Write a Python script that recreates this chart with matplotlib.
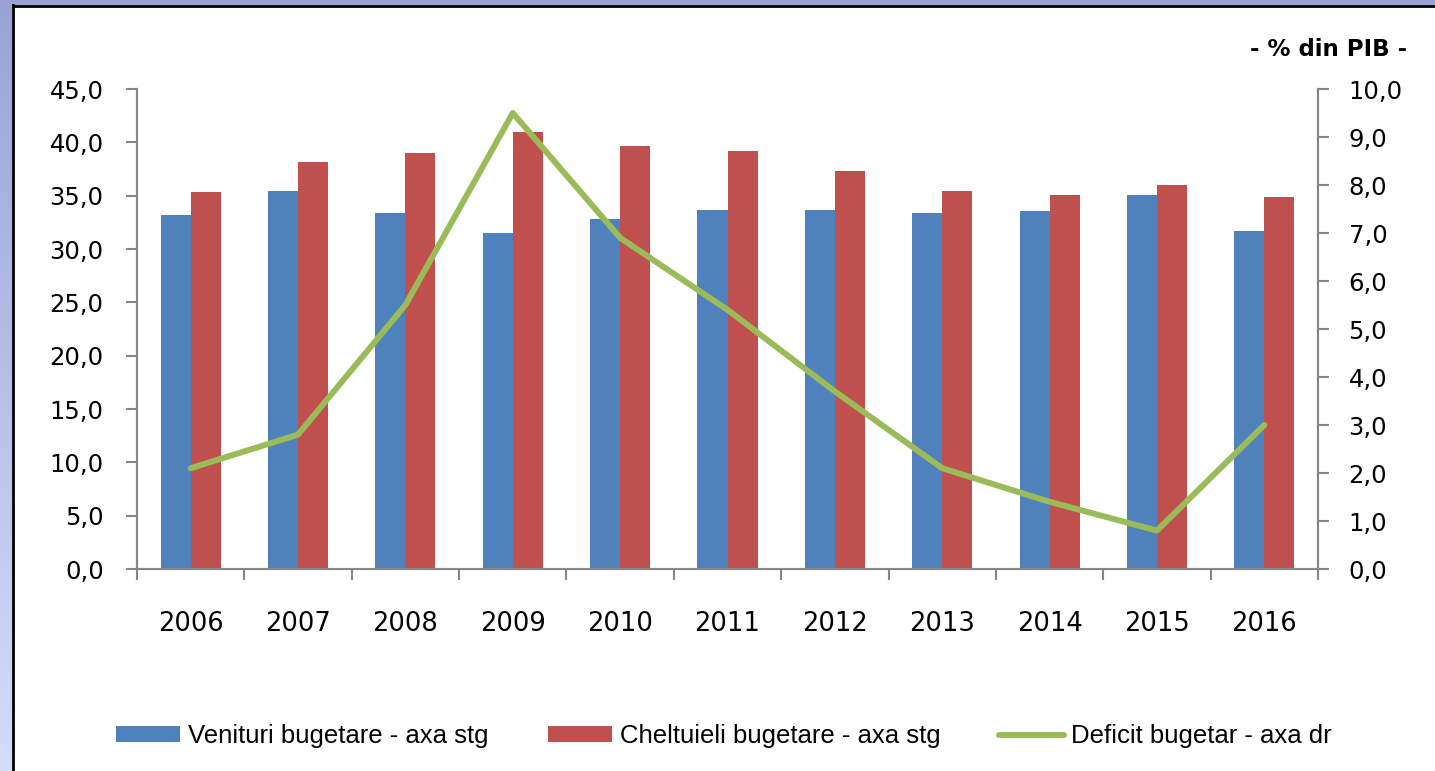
import numpy as np
import matplotlib.pyplot as plt
from matplotlib.ticker import FuncFormatter

ani = ['2006', '2007', '2008', '2009', '2010', '2011', '2012', '2013', '2014', '2015', '2016']
venituri = [33.2, 35.4, 33.4, 31.5, 32.8, 33.7, 33.7, 33.4, 33.6, 35.1, 31.7]
cheltuieli = [35.3, 38.2, 39.0, 41.0, 39.7, 39.2, 37.3, 35.4, 35.1, 36.0, 34.9]
deficit = [2.1, 2.8, 5.5, 9.5, 6.9, 5.4, 3.7, 2.1, 1.4, 0.8, 3.0]

plt.rcParams['font.family'] = ['DejaVu Sans']

fig = plt.figure(figsize=(14.35, 7.71), dpi=100)

# frame: purple gradient strip on the left, purple strip on top, black line inside
strip = fig.add_axes([0, 0, 12 / 1435, 1])
strip.imshow(np.linspace(0, 1, 100).reshape(-1, 1), aspect='auto', extent=(0, 1, 0, 1),
             cmap=plt.matplotlib.colors.LinearSegmentedColormap.from_list('s', ['#d4dcfa', '#9ba3d6']),
             origin='lower')
strip.axis('off')
top = fig.add_axes([0, 1 - 5 / 771, 1, 5 / 771])
top.axis('off')
top.add_patch(plt.Rectangle((0, 0), 1, 1, color='#9ba3d6'))
fig.add_artist(plt.Line2D([12.5 / 1435, 12.5 / 1435], [0, 1 - 5 / 771], transform=fig.transFigure,
                          color='black', lw=2))
fig.add_artist(plt.Line2D([12.5 / 1435, 1], [1 - 6 / 771, 1 - 6 / 771], transform=fig.transFigure,
                          color='black', lw=2))

ax = fig.add_axes([137 / 1435, 1 - 569 / 771, (1318 - 137) / 1435, 480 / 771])
x = np.arange(len(ani))
w = 0.28
ax.bar(x - w / 2, venituri, w, color='#4f81bd', label='Venituri bugetare - axa stg')
ax.bar(x + w / 2, cheltuieli, w, color='#c0504d', label='Cheltuieli bugetare - axa stg')
ax.set_xlim(-0.5, len(ani) - 0.5)
ax.set_ylim(0, 45)
ax.set_yticks(np.arange(0, 46, 5))

ax2 = ax.twinx()
ax2.plot(x, deficit, color='#9bbb59', lw=4.3, solid_joinstyle='round', solid_capstyle='round',
         label='Deficit bugetar - axa dr')
ax2.set_ylim(0, 10)
ax2.set_yticks(np.arange(0, 11, 1))

fmt = FuncFormatter(lambda v, p: f'{v:.1f}'.replace('.', ','))
ax.yaxis.set_major_formatter(fmt)
ax2.yaxis.set_major_formatter(fmt)

ax.set_xticks(x)
ax.set_xticklabels(ani)
ax.set_xticks(np.arange(-0.5, len(ani)), minor=True)
ax.tick_params(axis='x', which='major', length=0, pad=30, labelsize=18.5)
ax.tick_params(axis='x', which='minor', length=8, width=1.5, color='#868686')
ax.tick_params(axis='y', length=8, width=1.5, color='#868686', labelsize=17.5, pad=16)
ax2.tick_params(axis='y', length=8, width=1.5, color='#868686', labelsize=17.5, pad=14)

for a in (ax, ax2):
    a.spines['top'].set_visible(False)
    for s in ('left', 'right', 'bottom'):
        a.spines[s].set_color('#868686')
        a.spines[s].set_linewidth(1.5)

fig.text(1407 / 1435, 1 - 50 / 771, '- % din PIB -', ha='right', va='center',
         fontsize=16.5, fontweight='bold')

h1, l1 = ax.get_legend_handles_labels()
h2, l2 = ax2.get_legend_handles_labels()
fig.legend(h1 + h2, l1 + l2, loc='center', bbox_to_anchor=(724 / 1435, 1 - 736 / 771),
           ncol=3, frameon=False, handlelength=2.5, handleheight=0.55,
           columnspacing=2.3, handletextpad=0.3,
           prop={'family': ['Liberation Sans', 'DejaVu Sans'], 'size': 18.5})

fig.savefig('out.png', dpi=100)
